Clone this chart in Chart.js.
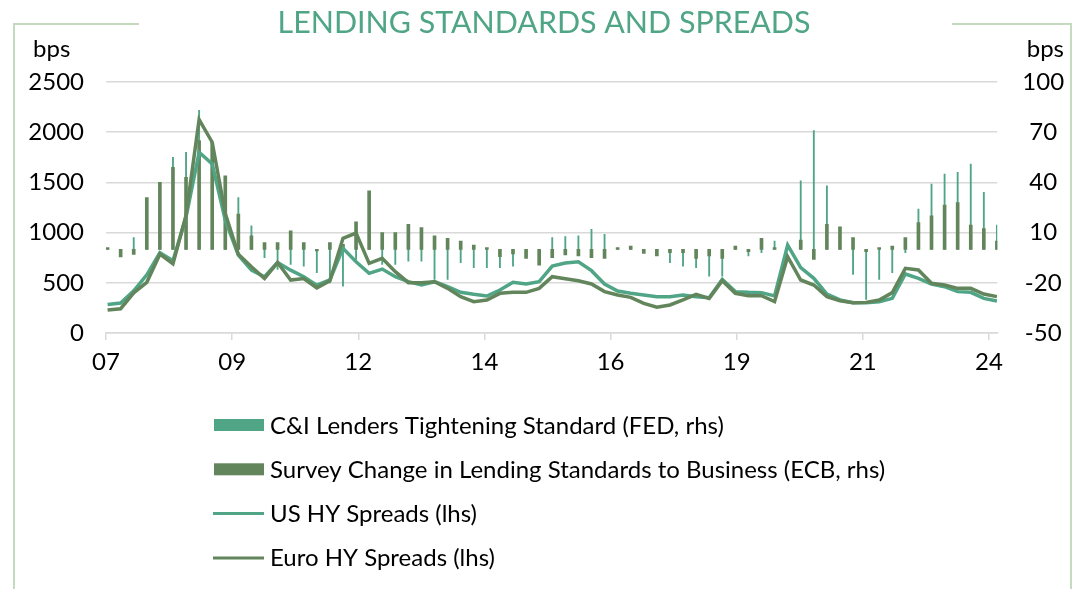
<!DOCTYPE html>
<html>
<head>
<meta charset="utf-8">
<script src="https://cdn.jsdelivr.net/npm/chart.js@4.4.1/dist/chart.umd.min.js"></script>
<style>
  html, body { margin: 0; padding: 0; background: #fff; }
</style>
</head>
<body>
<canvas id="chart" width="1076" height="589"></canvas>
<script>
// quarterly, 2007Q1 .. 2024Q1
const quarters = [
  '07Q1','07Q2','07Q3','07Q4','08Q1','08Q2','08Q3','08Q4','09Q1','09Q2','09Q3','09Q4',
  '10Q1','10Q2','10Q3','10Q4','11Q1','11Q2','11Q3','11Q4','12Q1','12Q2','12Q3','12Q4',
  '13Q1','13Q2','13Q3','13Q4','14Q1','14Q2','14Q3','14Q4','15Q1','15Q2','15Q3','15Q4',
  '16Q1','16Q2','16Q3','16Q4','17Q1','17Q2','17Q3','17Q4','18Q1','18Q2','18Q3','18Q4',
  '19Q1','19Q2','19Q3','19Q4','20Q1','20Q2','20Q3','20Q4','21Q1','21Q2','21Q3','21Q4',
  '22Q1','22Q2','22Q3','22Q4','23Q1','23Q2','23Q3','23Q4','24Q1'
];

// rhs, net %
const fedTightening = [
  0, 0, 7, 20, 30, 55, 58, 83, 60, 40, 31, 14,
  -5, -12, -9, -10, -14, -20, -22, -6, 2, -9, -9, -7,
  -7, -18, -18, -8, -11, -11, -11, -10, -3, -5, 7, 7.6,
  8, 12, 9, 0, 0, 0, -2, -8, -10, -11, -16, -16,
  1, -4, -2, 5, 1, 41, 71, 38, 5, -15, -30, -18,
  -14, -2, 24, 39, 45, 46, 51, 34, 14.5
];
const ecbChange = [
  1, -4.5, -3, 31, 40, 49, 43, 65, 64, 44, 21, 8,
  4, 4, 11, 4, -1, 4, 3, 16.5, 35, 10, 10, 15,
  13, 8, 6.6, 5, 2.6, 1, -4.4, -2.8, -5.4, -9.4, -5, -3.4,
  -4, -5, -5.4, 1, 2, -2.4, -4, -2, -2, -5.4, -4, -5.4,
  2, -1.4, 6.6, 1, 0, 5.6, -6, 15, 13.5, 7, -1.4, 1,
  2, 7, 16, 20, 26.5, 28, 14.5, 12.4, 5
];

// lhs, bps
const usHySpread = [
  285, 299, 420, 580, 800, 720, 1155, 1800, 1685, 1122, 775, 626,
  560, 702, 626, 560, 477, 530, 843, 710, 594, 637, 561, 511,
  478, 511, 461, 405, 385, 368, 428, 505, 488, 511, 667, 697,
  710, 621, 488, 418, 395, 378, 362, 362, 378, 362, 352, 535,
  412, 405, 402, 369, 876, 651, 545, 388, 329, 302, 302, 312,
  345, 588, 545, 488, 461, 412, 405, 345, 319
];
const euroHySpread = [
  230, 242, 400, 505, 785, 690, 1172, 2126, 1900, 1189, 785, 659,
  543, 702, 527, 543, 450, 520, 943, 995, 694, 744, 611, 501,
  501, 511, 445, 362, 312, 329, 395, 405, 405, 445, 561, 541,
  521, 488, 412, 378, 355, 295, 256, 279, 329, 385, 345, 521,
  395, 372, 372, 312, 760, 528, 478, 362, 322, 302, 305, 329,
  402, 644, 628, 495, 478, 445, 445, 388, 362
];

const leftTicks = [0, 500, 1000, 1500, 2000, 2500];
const rightTicks = [-50, -20, 10, 40, 70, 100];
const xTickLabels = ['07', '09', '12', '14', '16', '19', '21', '24'];

const TEAL = '#4fa585';
const GREEN = '#62855b';
const FONT = 'Lato';
const xOffset = 0.12;   // data sits a touch right of the first tick
const tickStep = 9.645; // quarters between axis labels (29 months)

const pts = arr => arr.map((v, i) => ({ x: i + xOffset, y: v }));

// title, frame, unit labels and the stacked legend
const decor = {
  id: 'decor',
  afterDraw(chart) {
    const ctx = chart.ctx;
    ctx.save();
    ctx.strokeStyle = '#c4dbc0';
    ctx.lineWidth = 2;
    ctx.beginPath();
    ctx.moveTo(139, 24); ctx.lineTo(14, 24); ctx.lineTo(14, 589);
    ctx.stroke();
    ctx.beginPath();
    ctx.moveTo(952, 24); ctx.lineTo(1071, 24); ctx.lineTo(1071, 589);
    ctx.stroke();

    ctx.fillStyle = TEAL;
    ctx.font = '30.4px ' + FONT;
    ctx.textAlign = 'center';
    ctx.textBaseline = 'alphabetic';
    ctx.fillText('LENDING STANDARDS AND SPREADS', 544, 33);

    ctx.fillStyle = '#000';
    ctx.font = '24px ' + FONT;
    ctx.textAlign = 'left';
    ctx.fillText('bps', 33, 57);
    ctx.textAlign = 'right';
    ctx.fillText('bps', 1064, 57);

    ctx.textAlign = 'left';
    chart.data.datasets.forEach((ds, k) => {
      const y = 425 + k * 44.3;
      if (ds.type === 'bar') {
        ctx.fillStyle = ds.backgroundColor;
        ctx.fillRect(214, y - 6, 50, 12);
      } else {
        ctx.strokeStyle = ds.borderColor;
        ctx.lineWidth = 3;
        ctx.beginPath();
        ctx.moveTo(213, y); ctx.lineTo(264, y);
        ctx.stroke();
      }
      ctx.fillStyle = '#000';
      ctx.fillText(ds.label, 270, y + 8.5);
    });
    ctx.restore();
  }
};

const ctx = document.getElementById('chart').getContext('2d');
let chart = new Chart(ctx, {
  data: {
    datasets: [
      {
        type: 'bar', label: 'C&I Lenders Tightening Standard (FED, rhs)',
        data: pts(fedTightening), yAxisID: 'y1',
        backgroundColor: TEAL, barThickness: 1.2, grouped: false, order: 3
      },
      {
        type: 'bar', label: 'Survey Change in Lending Standards to Business (ECB, rhs)',
        data: pts(ecbChange), yAxisID: 'y1',
        backgroundColor: GREEN, barThickness: 3, grouped: false, order: 2
      },
      {
        type: 'line', label: 'US HY Spreads (lhs)',
        data: pts(usHySpread), yAxisID: 'y',
        borderColor: TEAL, borderWidth: 3.5, pointRadius: 0, tension: 0, order: 1
      },
      {
        type: 'line', label: 'Euro HY Spreads (lhs)',
        data: pts(euroHySpread), yAxisID: 'y',
        borderColor: GREEN, borderWidth: 3.5, pointRadius: 0, tension: 0, order: 0
      }
    ]
  },
  options: {
    responsive: false,
    animation: false,
    devicePixelRatio: 1,
    layout: { padding: { top: 82, left: 0, right: 0, bottom: 0 } },
    plugins: {
      legend: { display: false },
      tooltip: { enabled: false },
      title: { display: false }
    },
    scales: {
      x: {
        type: 'linear',
        offset: false,
        min: 0,
        max: 68.15,
        afterBuildTicks: s => { s.ticks = xTickLabels.map((_, k) => ({ value: k * tickStep })); },
        afterFit: s => { s.height = 256; },
        ticks: {
          autoSkip: false, maxRotation: 0,
          callback: (v, i) => xTickLabels[i],
          color: '#000', font: { family: FONT, size: 24 }, padding: 8
        },
        grid: { offset: false, drawOnChartArea: false, tickLength: 7, color: '#d9d9d9', lineWidth: 1.5 },
        border: { color: '#d9d9d9', width: 1.5 }
      },
      y: {
        position: 'left',
        min: 0, max: 2500,
        afterBuildTicks: s => { s.ticks = leftTicks.map(v => ({ value: v })); },
        afterFit: s => { s.width = 106; },
        ticks: { color: '#000', font: { family: FONT, size: 24 }, padding: 22, callback: v => String(v) },
        grid: { color: '#d9d9d9', lineWidth: 1.5, drawTicks: false },
        border: { display: false }
      },
      y1: {
        position: 'right',
        min: -50, max: 100,
        afterBuildTicks: s => { s.ticks = rightTicks.map(v => ({ value: v })); },
        afterFit: s => { s.width = 1076 - 997.3; },
        ticks: { color: '#000', font: { family: FONT, size: 24 }, padding: 25, crossAlign: 'center', callback: v => String(v) },
        grid: { drawOnChartArea: false, drawTicks: false },
        border: { display: false }
      }
    }
  },
  plugins: [decor]
});
</script>
</body>
</html>
